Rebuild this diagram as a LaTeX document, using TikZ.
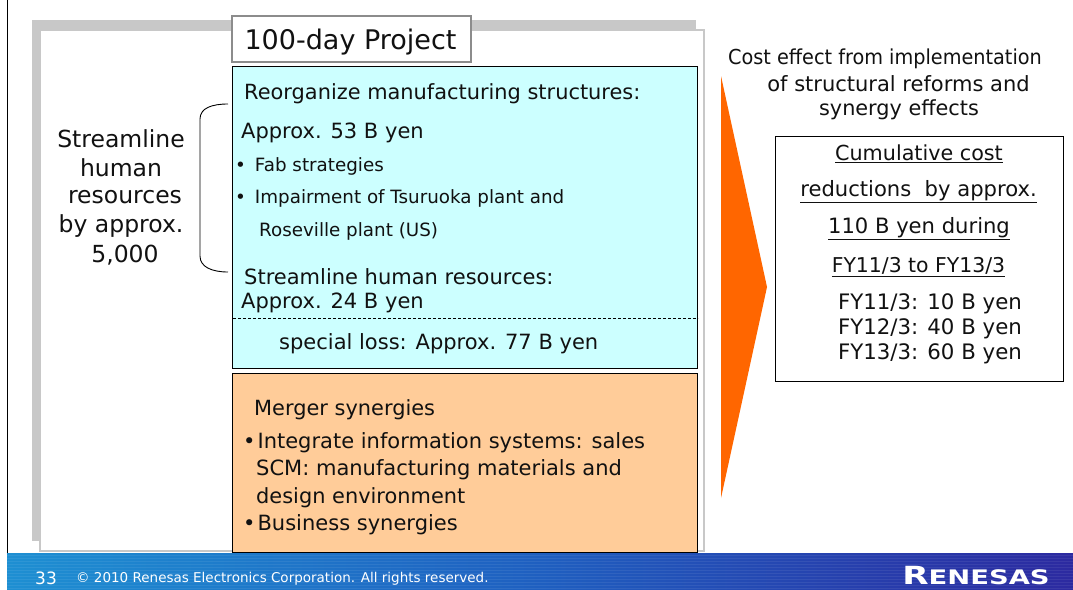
\documentclass[tikz,border=0pt]{standalone}
\usepackage{fontspec}
\setmainfont{DejaVu Sans}
\usetikzlibrary{shadings}
\newcommand{\fsz}[1]{\fontsize{#1pt}{#1pt}\selectfont}
\definecolor{framegray}{HTML}{C8C8C8}
\definecolor{titleedge}{HTML}{8C8C8C}
\definecolor{cyanbox}{HTML}{CCFFFF}
\definecolor{peachbox}{HTML}{FFCC99}
\definecolor{arroworange}{HTML}{FF6600}
\definecolor{footL}{HTML}{1E8FD2}
\definecolor{footR}{HTML}{2C2AA0}
\definecolor{footM}{HTML}{1F5FC0}
\definecolor{inktext}{HTML}{111111}
\tikzset{
  txt/.style={anchor=west,inner sep=0pt,text=inktext,font=\fsz{#1}},
  ctr/.style={anchor=center,inner sep=0pt,text=inktext,align=center,font=\fsz{#1}},
  box/.style={draw=black,line width=1pt,inner sep=0pt,minimum width=0pt},
}
\begin{document}
\begin{tikzpicture}[x=1pt,y=-1pt]
\useasboundingbox (0,0) rectangle (1073,589);
\fill[white] (0,0) rectangle (1073,589);
% footer
\fill[left color=footL,right color=footR,middle color=footM] (7,553) rectangle (1073,589);
\foreach \yy in {555,558,...,588} {\draw[white,opacity=0.07,line width=1pt] (7,\yy) -- (1073,\yy);}
\draw[black,line width=1pt] (7.5,0) -- (7.5,553);
% frame
\fill[framegray] (32,20) rectangle (696,541);
\fill[white] (41,31) rectangle (703,550);
\draw[framegray,line width=2pt] (41,30) -- (704,30) -- (704,551) -- (40,551) -- (40,541);
% title
\node[draw=titleedge,line width=2pt,fill=white,minimum width=239pt,minimum height=46pt,inner sep=0pt,anchor=north west] (title) at (231,15) {};
\node[ctr=27] (titletext) at (350.5,42) {100-day Project};
% boxes
\node[box,fill=cyanbox,minimum width=465pt,minimum height=302pt,anchor=north west] (cyan) at (232,66) {};
\node[box,fill=peachbox,minimum width=465pt,minimum height=179pt,anchor=north west] (peach) at (232,373) {};
\coordinate (dashL) at (233,318);
\coordinate (dashR) at (698,318);
\draw[black,line width=0.8pt,dash pattern=on 3pt off 2pt] (dashL) -- (dashR);
% cyan text
\node[txt=20.9] (c1) at (244,93.5) {Reorganize manufacturing structures:};
\node[txt=21] (c2) at (241,132.5) {Approx. 53 B yen};
\node[txt=18.3] (c3) at (235,166.5) {•\hspace{9pt}Fab strategies};
\node[txt=18.3] (c4) at (235,198.5) {•\hspace{9pt}Impairment of Tsuruoka plant and};
\node[txt=18.3] (c5) at (259,231.5) {Roseville plant (US)};
\node[txt=21] (c6) at (244,276.5) {Streamline human resources:};
\node[txt=21] (c7) at (241,302.5) {Approx. 24 B yen};
\node[txt=21] (c8) at (279,343.5) {special loss: Approx. 77 B yen};
% peach text
\node[txt=20.9] (p1) at (254,409.5) {Merger synergies};
\node[txt=21] (p2) at (243,442.5) {•\hspace{2pt}Integrate information systems: sales};
\node[txt=21] (p3) at (256,469.5) {SCM: manufacturing materials and};
\node[txt=20.9] (p4) at (256,497.5) {design environment};
\node[txt=21] (p5) at (243,524.5) {•\hspace{2pt}Business synergies};
% left label
\node[ctr=23.5] (s1) at (121,139) {Streamline};
\node[ctr=23.5] (s2) at (121,168) {human};
\node[ctr=23.5] (s3) at (125,197) {resources};
\node[ctr=23.5] (s4) at (121,226) {by approx.};
\node[ctr=23.5] (s5) at (125,255) {5,000};
% brace
\coordinate (bT) at (228,104);
\coordinate (bB) at (228,272);
\draw[black,line width=0.9pt] (bT) .. controls (212,104) and (200,108) .. (200,119) -- (200,256) .. controls (200,267) and (212,272) .. (bB);
% arrow
\coordinate (aT) at (721,76);
\coordinate (aR) at (767,287);
\coordinate (aB) at (721,498);
\fill[arroworange] (aT) -- (aR) -- (aB) -- cycle;
% right header
\node[ctr=20.6,xscale=0.935,transform shape] (h1) at (885,59) {Cost effect from implementation};
\node[ctr=21] (h2) at (898.5,84) {of structural reforms and};
\node[ctr=20.8] (h3) at (899,109.5) {synergy effects};
% right box
\node[box,fill=white,minimum width=288pt,minimum height=245pt,anchor=north west] (rbox) at (775,136) {};
\node[ctr=20.7] (r1) at (919,154) {\underline{Cumulative cost}};
\node[ctr=21.1] (r2) at (918.5,192) {\underline{reductions\ \ by approx.}};
\node[ctr=21.1] (r3) at (919,229) {\underline{110 B yen during}};
\node[ctr=20.4] (r4) at (918.5,267) {\underline{FY11/3 to FY13/3}};
\node[ctr=21.3] (r5) at (930,304) {FY11/3: 10 B yen};
\node[ctr=21.3] (r6) at (930,329) {FY12/3: 40 B yen};
\node[ctr=21.3] (r7) at (930,354) {FY13/3: 60 B yen};
% footer text
\node[anchor=west,inner sep=0pt,text=white,font=\fsz{17}] (num) at (35,578) {33};
\node[anchor=west,inner sep=0pt,text=white,font=\fsz{13.5}] (copy) at (76,579) {© 2010 Renesas Electronics Corporation. All rights reserved.};
\node[anchor=west,inner sep=0pt,text=white,xscale=1.37,transform shape,font=\bfseries] (logo) at (902,576) {{\fsz{25}R}{\fsz{20}ENESAS}};
\end{tikzpicture}
\end{document}
